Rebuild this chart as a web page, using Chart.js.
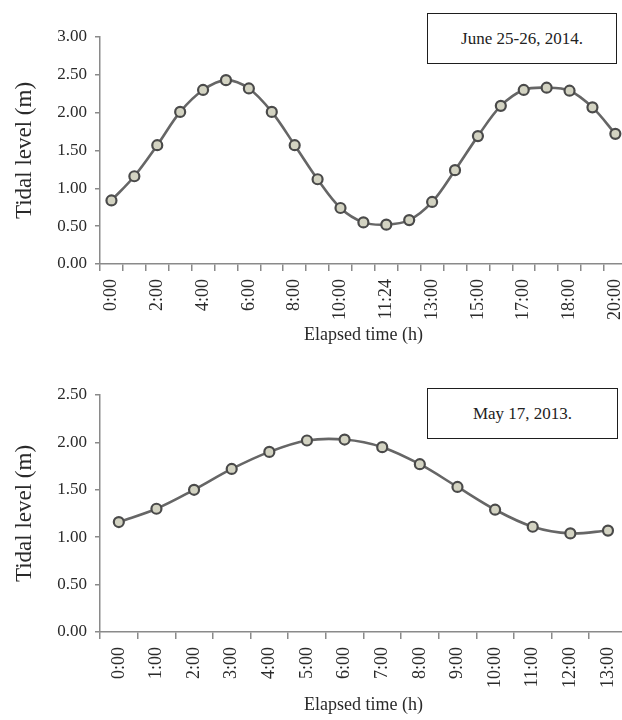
<!DOCTYPE html>
<html>
<head>
<meta charset="utf-8">
<script src="https://cdn.jsdelivr.net/npm/chart.js@4.4.1/dist/chart.umd.min.js"></script>
<style>
  body { margin: 0; background: #fff; overflow: hidden; width: 622px; height: 720px; }
  .panel { position: relative; width: 634px; }
  .note {
    position: absolute; box-sizing: border-box; background: #fff;
    border: 1.5px solid #1e1e1e; display: flex; align-items: center; justify-content: center;
    font-family: "Liberation Serif", serif; font-size: 17px; color: #222;
  }
</style>
</head>
<body>
  <div class="panel" style="height:350px">
    <canvas id="juneChart" width="634" height="350"></canvas>
    <div class="note" style="left:427px; top:13px; width:190px; height:51px">June 25-26, 2014.</div>
  </div>
  <div class="panel" style="height:370px">
    <canvas id="mayChart" width="634" height="370"></canvas>
    <div class="note" style="left:427px; top:38px; width:191px; height:51px">May 17, 2013.</div>
  </div>
<script>
// June 25-26, 2014 survey
const juneTimes = ["0:00", "1:00", "2:00", "3:00", "4:00", "5:00", "6:00", "7:00", "8:00", "9:00", "10:00", "11:00",
  "11:24", "12:00", "13:00", "14:00", "15:00", "16:00", "17:00", "17:30", "18:00", "19:00", "20:00"];
const juneLevels = [0.84, 1.16, 1.57, 2.01, 2.30, 2.43, 2.32, 2.01, 1.57, 1.12, 0.74, 0.55,
  0.52, 0.58, 0.82, 1.24, 1.69, 2.09, 2.30, 2.33, 2.29, 2.07, 1.72];

// May 17, 2013 survey
const mayTimes = ["0:00", "1:00", "2:00", "3:00", "4:00", "5:00", "6:00", "7:00", "8:00", "9:00", "10:00", "11:00", "12:00", "13:00"];
const mayLevels = [1.16, 1.30, 1.50, 1.72, 1.90, 2.02, 2.03, 1.95, 1.77, 1.53, 1.29, 1.11, 1.04, 1.07];

const axisColor = "#8a8a8a";
const textColor = "#2a2a2a";
const serif = "'Liberation Serif', serif";

function drawTideChart(id, labels, values, yMax, labelEvery, padTop, xHeight) {
  new Chart(id, {
    type: "line",
    data: {
      labels: labels,
      datasets: [{
        data: values,
        borderColor: "#666",
        borderWidth: 2.6,
        tension: 0.35,
        pointRadius: 5,
        pointBorderWidth: 2.2,
        pointBackgroundColor: "#d3d3c2",
        pointBorderColor: "#4a4a4a"
      }]
    },
    options: {
      responsive: false,
      animation: false,
      layout: { padding: { top: padTop, left: 0, right: 0, bottom: 0 } },
      plugins: { legend: { display: false }, tooltip: { enabled: false } },
      scales: {
        x: {
          offset: true,
          grid: { offset: true, drawOnChartArea: false, tickLength: 7, color: axisColor, lineWidth: 1.5 },
          border: { color: axisColor, width: 1.5 },
          ticks: {
            autoSkip: false, minRotation: 90, maxRotation: 90, padding: 8,
            color: textColor, font: { family: serif, size: 18 },
            callback: (v, i) => (i % labelEvery === 0 ? labels[i] : "")
          },
          title: {
            display: true, text: "Elapsed time (h)", color: textColor,
            font: { family: serif, size: 18 }, padding: { top: 4, bottom: 4 }
          },
          afterFit: (s) => {
            // let the plot run right up to the canvas edges
            s.height = xHeight;
            s.paddingLeft = 0;
            s.paddingRight = 0;
          }
        },
        y: {
          min: 0,
          max: yMax,
          grid: { drawOnChartArea: false, tickLength: 5, color: axisColor, lineWidth: 1.5 },
          border: { color: axisColor, width: 1.5 },
          ticks: {
            stepSize: 0.5, padding: 8, color: textColor, font: { family: serif, size: 17 },
            callback: (v) => v.toFixed(2)
          },
          title: {
            display: true, text: "Tidal level (m)", color: textColor,
            font: { family: serif, size: 23 }, padding: { top: 11, bottom: 0 }
          },
          afterFit: (s) => { s.width = 100; }
        }
      }
    }
  });
}

drawTideChart("juneChart", juneTimes, juneLevels, 3, 2, 37, 86);
drawTideChart("mayChart", mayTimes, mayLevels, 2.5, 1, 45, 88);
</script>
</body>
</html>
